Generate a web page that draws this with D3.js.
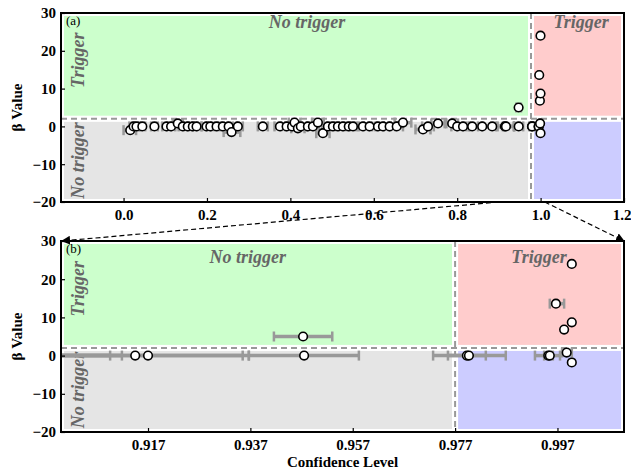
<!DOCTYPE html>
<html>
<head>
<meta charset="utf-8">
<script src="https://cdn.jsdelivr.net/npm/d3@7"></script>
<style>
  body { margin: 0; background: #fff; }
  text { font-family: "Liberation Serif", "Times New Roman", serif; }
</style>
</head>
<body>
<svg id="chart" width="631" height="474"></svg>
<script>
// data
var confidence = [0.016, 0.024, 0.031, 0.045, 0.074, 0.103, 0.114, 0.130, 0.142, 0.154,
                  0.166, 0.175, 0.199, 0.208, 0.223, 0.238, 0.252, 0.259, 0.274, 0.334,
                  0.375, 0.391, 0.404, 0.410, 0.418, 0.425, 0.442, 0.454, 0.466, 0.478,
                  0.490, 0.502, 0.514, 0.526, 0.540, 0.550, 0.574, 0.590, 0.610, 0.622,
                  0.638, 0.655, 0.670, 0.718, 0.730, 0.754, 0.788, 0.800, 0.814, 0.836,
                  0.860, 0.884, 0.9145, 0.917, 0.9473, 0.9475, 0.9793, 0.9797, 0.9952, 0.9955,
                  0.9967, 0.9983, 0.9988, 0.9998, 0.9998, 0.9998];
var beta = [-1, 0, 0, 0, 0, 0, 0, 0.8, 0, 0,
            0, 0, 0, 0, 0, 0, 0, -1.5, 0, 0,
            0, 0, 0, 1.0, -0.5, 0, 0, 0, 1.0, -1.8,
            0, 0, 0, 0, 0, 0, 0, 0, 0, 0,
            0, 0, 1.0, -0.8, 0, 0.8, 0.8, 0, 0, 0,
            0, 0, 0, 0, 5.0, 0, 0, 0, 0, 0,
            13.6, 6.8, 0.8, 24.0, 8.7, -1.8];
var errLow = [0.000, 0.014, 0.022, 0.038, 0.066, 0.093, 0.104, 0.118, 0.132, 0.144,
              0.156, 0.166, 0.188, 0.198, 0.210, 0.226, 0.232, 0.240, 0.262, 0.322,
              0.362, 0.378, 0.392, 0.396, 0.402, 0.410, 0.428, 0.440, 0.452, 0.462,
              0.476, 0.488, 0.498, 0.510, 0.526, 0.536, 0.560, 0.576, 0.596, 0.608,
              0.624, 0.640, 0.650, 0.700, 0.716, 0.738, 0.774, 0.786, 0.800, 0.822,
              0.830, 0.860, 0.893, 0.897, 0.9416, 0.9367, 0.9727, 0.9756, 0.9926, 0.9944,
              0.9955, null, 0.9979, null, null, null];
var errHigh = [0.030, 0.034, 0.040, 0.052, 0.082, 0.113, 0.124, 0.142, 0.152, 0.164,
               0.176, 0.186, 0.210, 0.218, 0.236, 0.250, 0.272, 0.280, 0.286, 0.346,
               0.388, 0.404, 0.416, 0.424, 0.434, 0.440, 0.456, 0.468, 0.480, 0.494,
               0.504, 0.516, 0.530, 0.542, 0.554, 0.564, 0.588, 0.604, 0.624, 0.636,
               0.652, 0.670, 0.690, 0.736, 0.744, 0.770, 0.802, 0.814, 0.828, 0.850,
               0.9096, 0.9119, 0.9355, 0.9367, 0.953, 0.9582, 0.9830, 0.9869, 0.9961, 0.9975,
               0.9983, null, 0.9998, null, null, null];

var topTicks = [0.0, 0.2, 0.4, 0.6, 0.8, 1.0, 1.2];
var zoomTicks = [0.917, 0.937, 0.957, 0.977, 0.997];
var betaTicks = [-20, -10, 0, 10, 20, 30];

var confThreshold = 0.977, betaThreshold = 2;

var points = confidence.map(function(c, i) {
    return {c: c, b: beta[i], lo: errLow[i], hi: errHigh[i]};
});

var svg = d3.select("#chart");
var left = 61, right = 624;
var gray = "#666";
var font = "Liberation Serif";

var defs = svg.append("defs");
defs.append("marker")
    .attr("id", "arrow")
    .attr("viewBox", "0 0 10 10")
    .attr("refX", 9).attr("refY", 5)
    .attr("markerWidth", 9).attr("markerHeight", 9)
    .attr("markerUnits", "userSpaceOnUse")
    .attr("orient", "auto")
    .append("path").attr("d", "M0,0L10,5L0,10z").attr("fill", "#000");

function drawPanel(id, x, y, ticks, fmt, tag, lab) {
    var x0 = x.domain()[0], x1 = x.domain()[1];
    var top = y.range()[1], bottom = y.range()[0];

    defs.append("clipPath").attr("id", "clip" + id)
        .append("rect").attr("x", left).attr("y", top)
        .attr("width", right - left).attr("height", bottom - top);

    var g = svg.append("g");
    var plot = g.append("g").attr("clip-path", "url(#clip" + id + ")");

    // shaded regions
    var regions = [
        {a: x0, b: confThreshold, lo: betaThreshold, hi: 30, col: "#ccffcc"},
        {a: x0, b: confThreshold, lo: -20, hi: betaThreshold, col: "#e5e5e5"},
        {a: confThreshold, b: x1, lo: betaThreshold, hi: 30, col: "#ffcccc"},
        {a: confThreshold, b: x1, lo: -20, hi: betaThreshold, col: "#ccccff"}
    ];
    plot.selectAll(".region").data(regions).enter().append("rect")
        .attr("x", function(d) { return x(d.a); })
        .attr("width", function(d) { return x(d.b) - x(d.a); })
        .attr("y", function(d) { return y(d.hi); })
        .attr("height", function(d) { return y(d.lo) - y(d.hi); })
        .attr("fill", function(d) { return d.col; })
        .attr("stroke", "#fff").attr("stroke-width", 6);

    // threshold lines
    plot.append("line")
        .attr("x1", left).attr("x2", right)
        .attr("y1", y(betaThreshold)).attr("y2", y(betaThreshold))
        .attr("stroke", "#999").attr("stroke-width", 2).attr("stroke-dasharray", "6,4");
    plot.append("line")
        .attr("x1", x(confThreshold)).attr("x2", x(confThreshold))
        .attr("y1", top).attr("y2", bottom)
        .attr("stroke", "#999").attr("stroke-width", 2).attr("stroke-dasharray", "6,4");

    // region text
    var tstyle = function(t) {
        t.attr("font-family", font).attr("font-weight", "bold").attr("font-style", "italic")
         .attr("font-size", 18).attr("fill", gray);
    };
    plot.append("text").attr("x", x(lab.ntx)).attr("y", y(lab.nty))
        .attr("text-anchor", "middle").text("No trigger").call(tstyle);
    plot.append("text").attr("x", x(lab.tx)).attr("y", y(lab.ty))
        .attr("text-anchor", "middle").text("Trigger").call(tstyle);
    plot.append("text").attr("transform", "translate(84," + y(17.5) + ") rotate(-90)")
        .attr("text-anchor", "middle").text("Trigger").call(tstyle);
    plot.append("text").attr("transform", "translate(84," + y(-9) + ") rotate(-90)")
        .attr("text-anchor", "middle").text("No trigger").call(tstyle);

    // error bars
    var eb = points.filter(function(d) { return d.lo !== null; });
    var bars = plot.selectAll(".err").data(eb).enter().append("g")
        .attr("stroke", "#999").attr("stroke-width", 3.5);
    bars.append("line")
        .attr("x1", function(d) { return x(d.lo); })
        .attr("x2", function(d) { return x(d.hi); })
        .attr("y1", function(d) { return y(d.b); })
        .attr("y2", function(d) { return y(d.b); });
    bars.append("line").attr("stroke-width", 2.5)
        .attr("x1", function(d) { return x(d.lo); })
        .attr("x2", function(d) { return x(d.lo); })
        .attr("y1", function(d) { return y(d.b) - 5; })
        .attr("y2", function(d) { return y(d.b) + 5; });
    bars.append("line").attr("stroke-width", 2.5)
        .attr("x1", function(d) { return x(d.hi); })
        .attr("x2", function(d) { return x(d.hi); })
        .attr("y1", function(d) { return y(d.b) - 5; })
        .attr("y2", function(d) { return y(d.b) + 5; });

    // points
    plot.selectAll(".pt").data(points).enter().append("circle")
        .attr("cx", function(d) { return x(d.c); })
        .attr("cy", function(d) { return y(d.b); })
        .attr("r", 4.3)
        .attr("fill", "#fff").attr("stroke", "#000").attr("stroke-width", 1.6);

    // axes
    var ax = g.append("g").attr("transform", "translate(0," + bottom + ")")
        .call(d3.axisBottom(x).tickValues(ticks).tickFormat(fmt).tickSize(-4).tickPadding(7));
    var ay = g.append("g").attr("transform", "translate(" + left + ",0)")
        .call(d3.axisLeft(y).tickValues(betaTicks).tickFormat(d3.format("d")).tickSize(-4).tickPadding(5));
    [ax, ay].forEach(function(a) {
        a.select(".domain").remove();
        a.selectAll(".tick line").attr("stroke", "#000").attr("stroke-width", 1.2);
        a.selectAll("text").attr("font-family", font).attr("font-weight", "bold")
            .attr("font-size", 15).attr("fill", "#000");
    });
    // keep the last x label inside the page
    ax.selectAll(".tick text").filter(function(d) { return x(d) > right - 5; })
        .attr("text-anchor", "end").attr("dx", 7);

    g.append("rect").attr("x", left).attr("y", top)
        .attr("width", right - left).attr("height", bottom - top)
        .attr("fill", "none").attr("stroke", "#000").attr("stroke-width", 2);

    g.append("text").attr("x", 66).attr("y", top + 12)
        .attr("font-family", font).attr("font-size", 13).attr("fill", "#000").text(tag);

    g.append("text").attr("transform", "translate(22," + (top + bottom) / 2 + ") rotate(-90)")
        .attr("text-anchor", "middle").attr("font-family", font).attr("font-weight", "bold")
        .attr("font-size", 15).text("\u03b2 Value");
}

var xTop = d3.scaleLinear().domain([-0.15, 1.2]).range([left, right]);
var xZoom = d3.scaleLinear().domain([0.9, 1.01]).range([left, right]);
var yTop = d3.scaleLinear().domain([-20, 30]).range([202, 13]);
var yZoom = d3.scaleLinear().domain([-20, 30]).range([432, 241]);

drawPanel("a", xTop, yTop, topTicks, d3.format(".1f"), "(a)",
    {ntx: 0.44, nty: 26, tx: 1.097, ty: 26});
drawPanel("b", xZoom, yZoom, zoomTicks, d3.format(".3f"), "(b)",
    {ntx: 0.9365, nty: 24.2, tx: 0.9934, ty: 24.2});

svg.append("text").attr("x", (left + right) / 2).attr("y", 467)
    .attr("text-anchor", "middle").attr("font-family", font).attr("font-weight", "bold")
    .attr("font-size", 15).text("Confidence Level");

// zoom connectors
var zoomLinks = [
    {x1: xTop(xZoom.domain()[0]), y1: yTop(-20), x2: left + 1, y2: yZoom(30)},
    {x1: xTop(xZoom.domain()[1]), y1: yTop(-20), x2: right, y2: yZoom(30)}
];
svg.selectAll(".link").data(zoomLinks).enter().append("line")
    .attr("x1", function(d) { return d.x1; }).attr("y1", function(d) { return d.y1; })
    .attr("x2", function(d) { return d.x2; }).attr("y2", function(d) { return d.y2; })
    .attr("stroke", "#000").attr("stroke-width", 1.2).attr("stroke-dasharray", "5,3")
    .attr("marker-end", "url(#arrow)");
</script>
</body>
</html>
